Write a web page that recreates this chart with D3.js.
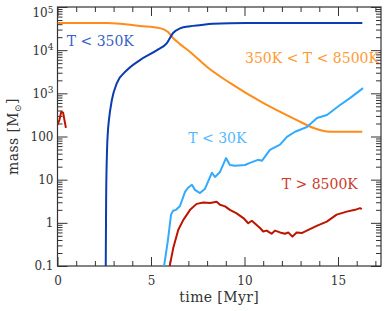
<!DOCTYPE html>
<html>
<head>
<meta charset="utf-8">
<script src="https://cdn.jsdelivr.net/npm/d3@7"></script>
<style>
  html, body { margin: 0; padding: 0; background: #fff; }
  svg { display: block; font-family: "DejaVu Serif", serif; }
  .axis path { display: none; }
  .axis line { stroke: #333; stroke-width: 1; }
  .axis text { fill: #333; font-size: 12px; font-family: "DejaVu Serif", serif; }
</style>
</head>
<body>
<svg width="388" height="311"></svg>
<script>
// --- data (time in Myr, mass in solar masses) ---
const coldTime = [2.58, 2.6, 2.65, 2.7, 2.75, 2.91, 3.18, 3.72, 4.41, 5.32, 5.86, 6.18, 6.55, 7.09, 7.6, 8.3, 10.1, 16.3];
const coldMass = [0.1, 3.2, 50, 140, 240, 710, 1740, 3470, 5900, 10000, 14800, 25000, 32000, 36000, 38000, 40700, 42500, 42700];

const warmTime = [0, 2.65, 4.41, 5.48, 5.91, 6.18, 6.55, 7.09, 8.0, 9.22, 10.99, 12.8, 13.66, 14.57, 16.3];
const warmMass = [42700, 42700, 36300, 32400, 26300, 19100, 13800, 9100, 4070, 1740, 600, 240, 160, 129, 128];

const veryColdTime = [5.7, 5.91, 6.07, 6.18, 6.34, 6.55, 6.82, 6.98, 7.19, 7.35, 7.62, 7.89, 8.26, 8.42, 8.69, 9.01, 9.22, 9.49, 10.03, 10.29, 10.72, 10.94, 11.36, 11.9, 12.27, 12.7, 13.34, 13.88, 14.41, 15.11, 15.64, 16.34];
const veryColdMass = [0.1, 0.41, 1.55, 1.9, 2.0, 2.45, 5.2, 6.5, 7.6, 5.8, 4.9, 6.2, 14.5, 11.5, 15.1, 31.6, 21.9, 20.9, 21.9, 24.5, 28.8, 27.5, 49, 65, 98, 129, 166, 269, 316, 537, 776, 1320];

const hotEarlyTime = [0, 0.1, 0.2, 0.3, 0.45];
const hotEarlyMass = [186, 240, 372, 355, 158];

const hotTime = [6.0, 6.19, 6.46, 6.73, 7.09, 7.44, 7.8, 8.16, 8.51, 8.69, 8.96, 9.22, 9.58, 9.94, 10.2, 10.39, 10.65, 10.83, 11.0, 11.19, 11.33, 11.45, 11.63, 11.9, 12.17, 12.34, 12.56, 12.79, 13.06, 13.33, 13.86, 14.4, 14.93, 15.47, 15.91, 16.18, 16.27];
const hotMass = [0.1, 0.26, 0.69, 1.17, 2.0, 2.75, 2.95, 2.88, 3.09, 2.63, 2.4, 2.0, 1.66, 1.29, 0.98, 1.12, 0.89, 0.76, 0.63, 0.66, 0.6, 0.56, 0.66, 0.6, 0.56, 0.6, 0.48, 0.6, 0.58, 0.66, 0.85, 1.07, 1.55, 1.82, 2.0, 2.19, 2.09];

const xMajorTicks = [0, 5, 10, 15];
const yMajorTicks = [0.1, 1, 10, 100, 1e3, 1e4, 1e5];
const yTickLabels = ["0.1", "1", "10", "100", "10|3", "10|4", "10|5"];

// --- layout ---
const svg = d3.select("svg");
const plotLeft = 57.5, plotRight = 381, plotTop = 7, plotBottom = 266;

const x = d3.scaleLinear().domain([0, 17.3]).range([plotLeft, plotRight]);
const y = d3.scaleLog().domain([0.1, 1e5]).range([plotBottom, plotTop]);

const xMinor = d3.range(0, 18).filter(v => v % 5 !== 0);
const yMinor = [];
for (let e = -1; e < 5; e++) for (let k = 2; k <= 9; k++) yMinor.push(k * Math.pow(10, e));

svg.append("defs").append("clipPath").attr("id", "plot-clip")
  .append("rect").attr("x", plotLeft).attr("y", plotTop)
  .attr("width", plotRight - plotLeft).attr("height", plotBottom - plotTop);

// minor ticks, all four sides, pointing in
svg.append("g").attr("class", "axis").attr("transform", `translate(0,${plotBottom})`)
  .call(d3.axisBottom(x).tickValues(xMinor).tickSize(-5).tickFormat(""));
svg.append("g").attr("class", "axis").attr("transform", `translate(0,${plotTop})`)
  .call(d3.axisTop(x).tickValues(xMinor).tickSize(-5).tickFormat(""));
svg.append("g").attr("class", "axis").attr("transform", `translate(${plotLeft},0)`)
  .call(d3.axisLeft(y).tickValues(yMinor).tickSize(-5).tickFormat(""));
svg.append("g").attr("class", "axis").attr("transform", `translate(${plotRight},0)`)
  .call(d3.axisRight(y).tickValues(yMinor).tickSize(-5).tickFormat(""));

// major ticks
svg.append("g").attr("class", "axis").attr("transform", `translate(0,${plotBottom})`)
  .call(d3.axisBottom(x).tickValues(xMajorTicks).tickSize(-9).tickPadding(10).tickFormat(d3.format("d")));
svg.append("g").attr("class", "axis").attr("transform", `translate(0,${plotTop})`)
  .call(d3.axisTop(x).tickValues(xMajorTicks).tickSize(-9).tickFormat(""));
svg.append("g").attr("class", "axis").attr("transform", `translate(${plotRight},0)`)
  .call(d3.axisRight(y).tickValues(yMajorTicks).tickSize(-10).tickFormat(""));

const yAxis = svg.append("g").attr("class", "axis").attr("transform", `translate(${plotLeft},0)`)
  .call(d3.axisLeft(y).tickValues(yMajorTicks).tickSize(-10).tickPadding(4).tickFormat(""));

yAxis.selectAll(".tick text").each(function(d, i) {
  const t = d3.select(this);
  const parts = yTickLabels[i].split("|");
  t.append("tspan").text(parts[0]);
  if (parts[1]) {
    t.append("tspan").attr("dy", "-0.5em").attr("font-size", "9px").text(parts[1]);
  }
  if (d === 1e5) t.attr("y", 6);
});

// frame
svg.append("rect")
  .attr("x", plotLeft).attr("y", plotTop)
  .attr("width", plotRight - plotLeft).attr("height", plotBottom - plotTop)
  .attr("fill", "none").attr("stroke", "#333").attr("stroke-width", 1.2);

// --- lines ---
const line = d3.line().x(d => x(d[0])).y(d => y(d[1]));
const plot = svg.append("g").attr("clip-path", "url(#plot-clip)");

const series = [
  { t: warmTime, m: warmMass, color: "#ff8c1a", curve: d3.curveMonotoneX },
  { t: coldTime, m: coldMass, color: "#0b3cb0", curve: d3.curveMonotoneX },
  { t: veryColdTime, m: veryColdMass, color: "#33aaff", curve: d3.curveLinear },
  { t: hotEarlyTime, m: hotEarlyMass, color: "#bb1500", curve: d3.curveLinear },
  { t: hotTime, m: hotMass, color: "#bb1500", curve: d3.curveLinear }
];

series.forEach(s => {
  plot.append("path")
    .datum(d3.zip(s.t, s.m))
    .attr("fill", "none")
    .attr("stroke", s.color)
    .attr("stroke-width", 2)
    .attr("stroke-linejoin", "round")
    .attr("d", line.curve(s.curve));
});

// --- annotations ---
const notes = [
  { text: "T < 350K", t: 0.49, m: 12300, color: "#3a62c8" },
  { text: "350K < T < 8500K", t: 10.03, m: 5000, color: "#ff9a33" },
  { text: "T < 30K", t: 6.99, m: 70, color: "#55b8ff" },
  { text: "T > 8500K", t: 11.99, m: 6.0, color: "#cc3b2b" }
];
svg.selectAll(".note")
  .data(notes)
  .join("text")
  .attr("class", "note")
  .attr("x", d => x(d.t))
  .attr("y", d => y(d.m))
  .attr("fill", d => d.color)
  .attr("font-size", "14px")
  .text(d => d.text);

// --- axis titles ---
svg.append("text")
  .attr("x", (plotLeft + plotRight) / 2).attr("y", 302)
  .attr("text-anchor", "middle")
  .attr("font-size", "14px").attr("letter-spacing", "0.4px").attr("fill", "#333")
  .text("time [Myr]");

const yt = svg.append("text")
  .attr("transform", `translate(18,${(plotTop + plotBottom) / 2}) rotate(-90)`)
  .attr("text-anchor", "middle")
  .attr("font-size", "14px").attr("letter-spacing", "0.4px").attr("fill", "#333");
yt.append("tspan").text("mass [M");
yt.append("tspan").attr("dy", "0.3em").attr("font-size", "9px").text("⊙");
yt.append("tspan").attr("dy", "-0.3em").text("]");
</script>
</body>
</html>
